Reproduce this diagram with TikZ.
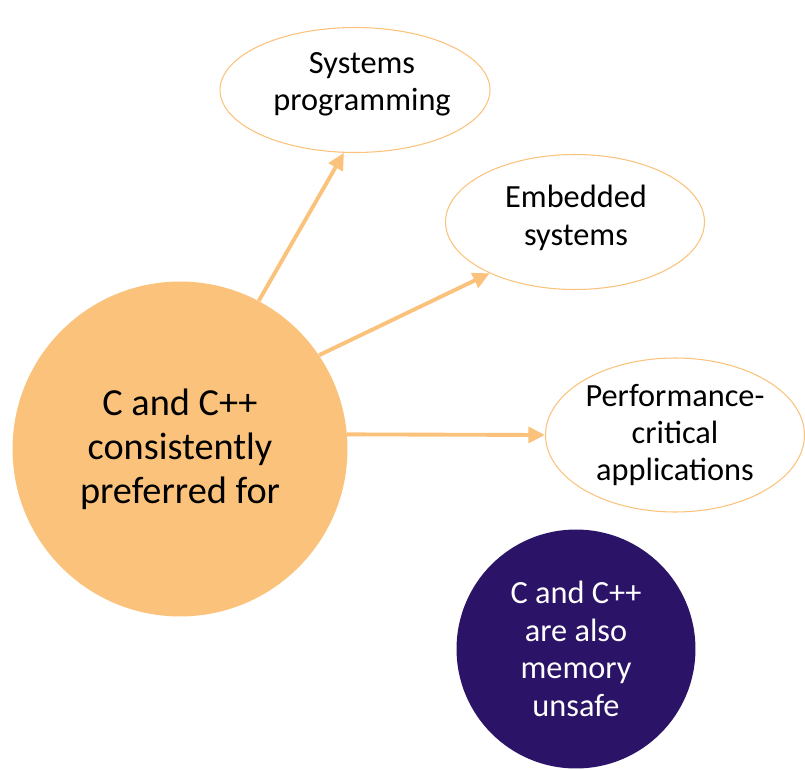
\documentclass[tikz,border=0pt]{standalone}
\usepackage{fontspec}
\setmainfont{Carlito}
\usetikzlibrary{shapes.geometric,arrows.meta}
\definecolor{peach}{HTML}{FBC27B}
\definecolor{grape}{HTML}{2B1467}
\tikzset{
        topic/.style = {draw=peach, line width=0.6pt, ellipse,
            inner sep=0pt, align=center,
            font=\fontsize{18.4}{21.2}\selectfont},
        hub/.style = {circle, fill=peach, inner sep=0pt,
            minimum size=6.7cm, align=center,
            font=\fontsize{21.8}{25}\selectfont},
        note/.style = {circle, fill=grape, text=white, inner sep=0pt,
            minimum size=4.78cm, align=center,
            font=\fontsize{18.4}{21.5}\selectfont},
        arrow/.style = {draw=peach, line width=2.2pt,
            -{Triangle[length=9.5pt,width=9pt]}},
    }

\begin{document}
\begin{tikzpicture}[x=0.02cm,y=-0.02cm]
    \useasboundingbox (0,0) rectangle (805,770);

    \node[hub] (cc) at (180,449) {C and C++\\consistently\\preferred for};

    \node[topic, minimum width=5.4cm, minimum height=2.5cm] (sys) at (355,90) {};
    \node[align=center, font=\fontsize{18.4}{21.2}\selectfont] (systxt) at (362,84) {Systems\\programming};
    \node[topic, minimum width=5.18cm, minimum height=2.7cm] (emb) at (575,222) {};
    \node[align=center, font=\fontsize{18.4}{21.2}\selectfont] (embtxt) at (576,218) {Embedded\\systems};
    \node[topic, minimum width=5.18cm, minimum height=3.08cm] (perf) at (675,435) {Performance-\\critical\\applications};

    \node[note] (unsafe) at (576,649) {C and C++\\are also\\memory\\unsafe};

    % arrows out of the big circle
    \draw[arrow] (cc.62) -- (sys.-100);
    \draw[arrow] (cc.34) -- (emb.211);
    \draw[arrow] (cc.5) -- (perf.west);
\end{tikzpicture}
\end{document}
